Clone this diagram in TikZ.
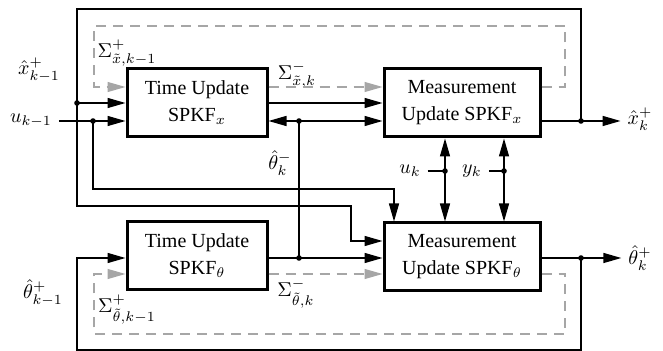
\documentclass[tikz,border=0pt]{standalone}
\usepackage{fontspec}
\setmainfont{Liberation Serif}
\usetikzlibrary{arrows.meta}

\begin{document}
\begin{tikzpicture}[x=0.5pt,y=-0.5pt,>={Triangle[length=9pt,width=5pt]},
  block/.style={draw,line width=1.5pt,minimum width=70pt,minimum height=34pt,align=center,inner sep=0pt},
  conn/.style={line width=0.7pt},
  sigline/.style={gray!70,line width=0.6pt,dash pattern=on 5pt off 3.5pt},
  jdot/.style={circle,fill,inner sep=0pt,minimum size=2.8pt}]
\useasboundingbox (0,0) rectangle (663,351);

% blocks
\node[block] (tux) at (197,103) {Time Update\\[1.5pt]SPKF$_x$};
\node[block,minimum width=78pt] (mux) at (462,103) {Measurement\\[1.5pt]Update SPKF$_x$};
\node[block] (tut) at (197,256) {Time Update\\[1.5pt]SPKF$_\theta$};
\node[block,minimum width=78pt] (mut) at (462,257) {Measurement\\[1.5pt]Update SPKF$_\theta$};

% labels
\node (xprev) at (39,70) {$\hat{x}^+_{k-1}$};
\node (ukm1) at (31,121) {$u_{k-1}$};
\node (sxp) at (127,53) {$\Sigma^+_{\tilde{x},k-1}$};
\node (sxm) at (297,75) {$\Sigma^-_{\tilde{x},k}$};
\node (thm) at (280,163) {$\hat{\theta}^-_k$};
\node (xhat) at (640,119) {$\hat{x}^+_k$};
\node (ukl) at (410,171) {$u_k$};
\node (ykl) at (472,171) {$y_k$};
\node (tprev) at (43,293) {$\hat{\theta}^+_{k-1}$};
\node (stp) at (127,310) {$\Sigma^+_{\tilde{\theta},k-1}$};
\node (stm) at (296,294) {$\Sigma^-_{\tilde{\theta},k}$};
\node (that) at (640,258) {$\hat{\theta}^+_k$};

% junctions and corners
\coordinate (tl) at (77,9);
\coordinate (bl) at (77,350);
\coordinate (fbx) at (77,103);
\coordinate (bend1) at (351,206);
\coordinate (uj) at (93,121);
\coordinate (ubend) at (394,189);
\coordinate (tj1) at (299,121);
\coordinate (tj2) at (299,258);
\coordinate (xout) at (581,121);
\coordinate (tout) at (581,258);
\coordinate (uk) at (445,171);
\coordinate (yk) at (504,171);
\coordinate (dtl) at (94,26);
\coordinate (dtr) at (565,26);
\coordinate (dbl) at (94,334);
\coordinate (dbr) at (565,334);

% covariance loops
\draw[sigline,->] (mux.east |- 0,87) -| (dtr) -- (dtl) |- (tux.west |- 0,87);
\draw[sigline,->] (tux.east |- 0,87) -- (mux.west |- 0,87);
\draw[sigline,->] (mut.east |- 0,274) -| (dbr) -- (dbl) |- (tut.west |- 0,274);
\draw[sigline,->] (tut.east |- 0,274) -- (mut.west |- 0,274);

% state loop
\draw[conn] (mux.east |- xout) -- (xout);
\draw[conn,->] (xout) -- (xout -| xhat.west);
\draw[conn] (xout) |- (tl) -- (fbx);
\draw[conn,->] (fbx) -- (fbx -| tux.west);
\draw[conn,->] (fbx) |- (bend1) |- (mut.west |- 0,241);
\draw[conn,->] (tux.east) -- (tux.east -| mux.west);

% input
\draw[conn,->] (ukm1) -- (ukm1 -| tux.west);
\draw[conn,->] (uj) |- (ubend) -- (ubend |- mut.north);
\draw[conn] (ukl) -- (uk);
\draw[conn,->] (uk) -- (uk |- mux.south);
\draw[conn,->] (uk) -- (uk |- mut.north);
\draw[conn] (ykl) -- (yk);
\draw[conn,->] (yk) -- (yk |- mux.south);
\draw[conn,->] (yk) -- (yk |- mut.north);

% parameter loop
\draw[conn] (tut.east |- tj2) -- (tj2);
\draw[conn] (tj2) -- (tj1);
\draw[conn,->] (tj1) -- (tj1 -| tux.east);
\draw[conn,->] (tj1) -- (tj1 -| mux.west);
\draw[conn,->] (tj2) -- (tj2 -| mut.west);
\draw[conn] (mut.east |- tout) -- (tout);
\draw[conn,->] (tout) -- (tout -| that.west);
\draw[conn,->] (tout) |- (bl) |- (tut.west |- tj2);

\foreach \p in {fbx,uj,tj1,tj2,xout,tout,uk,yk}
  \node[jdot] at (\p) {};
\end{tikzpicture}
\end{document}
